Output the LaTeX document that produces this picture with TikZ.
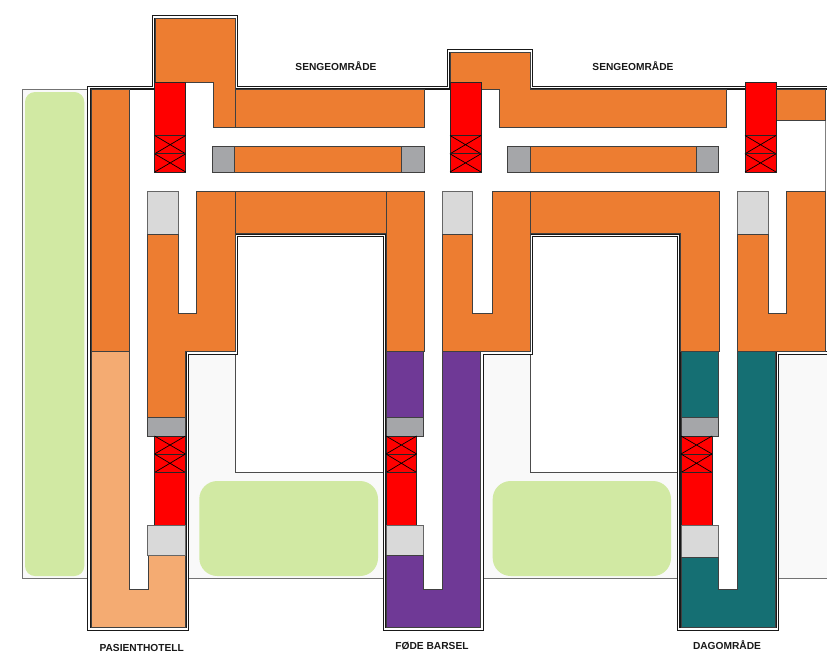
\documentclass[tikz,border=0pt]{standalone}
\usepackage{fontspec}
\setmainfont{Liberation Sans}
\definecolor{cOrange}{HTML}{ED7D31}
\definecolor{cPeach}{HTML}{F4AB72}
\definecolor{cPurple}{HTML}{6F3996}
\definecolor{cTeal}{HTML}{156F73}
\definecolor{cGrey}{HTML}{A5A6A9}
\definecolor{cLight}{HTML}{D9D9D9}
\definecolor{cGreen}{HTML}{D1E9A3}
\definecolor{cBack}{HTML}{F9F9F9}
\tikzset{
  edge/.style={draw=black!75,line width=1pt,line join=miter},
  orangeroom/.style={edge,fill=cOrange},
  peachroom/.style={edge,fill=cPeach},
  purpleroom/.style={edge,fill=cPurple},
  tealroom/.style={edge,fill=cTeal},
  redroom/.style={edge,draw=black!85,fill=red},
  greyroom/.style={edge,fill=cGrey},
  lightroom/.style={edge,draw=black!60,fill=cLight},
  greenarea/.style={fill=cGreen,draw=none},
  backarea/.style={draw=black!55,line width=0.9pt,fill=cBack},
  courtyard/.style={fill=white,draw=none},
  wallouter/.style={line width=3.8pt,black!90,miter limit=10},
  wallinner/.style={line width=1.4pt,white,miter limit=10},
  label/.style={font=\fontsize{10.2}{12}\selectfont\bfseries,text=black!90,inner sep=0pt}
}
\newcommand{\crossbox}[4]{\draw[redroom] (#1,#2) rectangle (#3,#4);\draw[black,line width=0.7pt] (#1,#2) -- (#3,#4) (#3,#2) -- (#1,#4);}
\newcommand{\wallpath}{(835,87.7) -- (531.3,87.7) -- (531.3,51) -- (448.7,51) -- (448.7,87.7) -- (236.3,87.7) -- (236.3,16.8) -- (153.7,16.8) -- (153.7,87.7) -- (89,87.7) -- (89,629) -- (187.5,629) -- (187.5,352.8) -- (236.3,352.8) -- (236.3,235.3) -- (384.7,235.3) -- (384.7,629) -- (482,629) -- (482,352.8) -- (531.3,352.8) -- (531.3,235.3) -- (678.7,235.3) -- (678.7,629) -- (777.3,629) -- (777.3,352.8) -- (835,352.8)}
\begin{document}
\begin{tikzpicture}[x=1pt,y=-1pt]
\useasboundingbox (0,0) rectangle (827,654);
\clip (0,0) rectangle (827,654);
% background field
\draw[backarea] (22,89) rectangle (840,578.5);
% courtyards
\fill[courtyard] (235,236) rectangle (385,472);
\fill[courtyard] (530,236) rectangle (680,472);
\draw[draw=black!70,line width=0.9pt] (235,340) -- (235,472) -- (386,472);
\draw[draw=black!70,line width=0.9pt] (530,340) -- (530,472) -- (681,472);
% green areas
\fill[greenarea,rounded corners=10pt] (25,92) rectangle (84.3,576);
\fill[greenarea,rounded corners=18pt] (199.3,481) rectangle (378,576);
\fill[greenarea,rounded corners=18pt] (492.7,481) rectangle (671,576);
% building outline
\path[fill=white] \wallpath -- cycle;
\draw[wallouter] \wallpath;
\draw[wallinner] \wallpath;
% right end wall
\draw[draw=black!50,line width=1pt] (825.3,89) -- (825.3,351);
% unit 1 (left)
\draw[orangeroom] (91,89.3) rectangle (129,351);
\draw[peachroom] (91,351) -- (129,351) -- (129,589) -- (148,589) -- (148,555) -- (185.5,555) -- (185.5,627) -- (91,627) -- cycle;
\draw[orangeroom] (155.3,18.5) -- (235,18.5) -- (235,127.3) -- (213.3,127.3) -- (213.3,82.7) -- (155.3,82.7) -- cycle;
\draw[orangeroom] (235,89.3) rectangle (424,127.3);
\draw[greyroom] (212.7,146) rectangle (234.7,172);
\draw[orangeroom] (234.7,146) rectangle (401,172);
\draw[greyroom] (401,146) rectangle (424,172);
\draw[redroom] (154.7,82.7) rectangle (185.7,135.5);
\crossbox{154.7}{135.5}{185.7}{153.8}
\crossbox{154.7}{153.8}{185.7}{172}
\draw[lightroom] (147.7,191) rectangle (178.3,234.3);
\draw[orangeroom] (147.7,234.3) -- (178.3,234.3) -- (178.3,313) -- (196.7,313) -- (196.7,191) -- (235,191) -- (235,351) -- (185.5,351) -- (185.5,417) -- (147.7,417) -- cycle;
\draw[orangeroom] (235,191) rectangle (386,233.3);
\draw[orangeroom] (386,191) rectangle (424,351);
\draw[greyroom] (147.7,417) rectangle (185.5,436);
\crossbox{154.5}{436}{185.5}{454}
\crossbox{154.5}{454}{185.5}{472.5}
\draw[redroom] (154.5,472.5) rectangle (185.5,525);
\draw[lightroom] (147.7,525) rectangle (185.5,555);
% unit 2 (middle)
\draw[orangeroom] (450.7,52.7) -- (530,52.7) -- (530,89.3) -- (726,89.3) -- (726,127.3) -- (499.3,127.3) -- (499.3,89.3) -- (481,89.3) -- (481,82.7) -- (450.7,82.7) -- cycle;
\draw[greyroom] (507.7,146.5) rectangle (530.7,172);
\draw[orangeroom] (530.7,146.5) rectangle (696,172);
\draw[greyroom] (696,146.5) rectangle (718.7,172);
\draw[redroom] (450,82.7) rectangle (481,135.5);
\crossbox{450}{135.5}{481}{153.8}
\crossbox{450}{153.8}{481}{172}
\draw[lightroom] (442.7,191) rectangle (472.7,234.3);
\draw[orangeroom] (442.7,234.3) -- (472.7,234.3) -- (472.7,313) -- (492,313) -- (492,191) -- (530,191) -- (530,351) -- (442.7,351) -- cycle;
\draw[orangeroom] (530,191) -- (719,191) -- (719,351) -- (680.5,351) -- (680.5,233.3) -- (530,233.3) -- cycle;
\draw[purpleroom] (386,351) rectangle (423.5,417);
\draw[greyroom] (386,417) rectangle (423.5,436);
\crossbox{386}{436}{416.7}{454}
\crossbox{386}{454}{416.7}{472.5}
\draw[redroom] (386,472.5) rectangle (416.7,525);
\draw[lightroom] (386,525) rectangle (423.5,555);
\draw[purpleroom] (386,555) -- (423.5,555) -- (423.5,589) -- (442.7,589) -- (442.7,351) -- (480.5,351) -- (480.5,627) -- (386,627) -- cycle;
% unit 3 (right)
\draw[orangeroom] (776,89.3) rectangle (825.3,120);
\draw[redroom] (745,82.7) rectangle (776,135.5);
\crossbox{745}{135.5}{776}{153.8}
\crossbox{745}{153.8}{776}{172}
\draw[lightroom] (737.3,191) rectangle (768,234.3);
\draw[orangeroom] (737.3,234.3) -- (768,234.3) -- (768,313) -- (786.7,313) -- (786.7,191) -- (825.3,191) -- (825.3,351) -- (737.3,351) -- cycle;
\draw[tealroom] (681,351) rectangle (718.3,417);
\draw[greyroom] (681,417) rectangle (718.3,436);
\crossbox{681}{436}{712}{454}
\crossbox{681}{454}{712}{472.5}
\draw[redroom] (681,472.5) rectangle (712,525);
\draw[lightroom] (681,525) rectangle (718.3,557);
\draw[tealroom] (681,557) -- (718.3,557) -- (718.3,589) -- (737.6,589) -- (737.6,351) -- (775.3,351) -- (775.3,627) -- (681,627) -- cycle;
% labels
\node[label] (seng1) at (336,66) {SENGEOMRÅDE};
\node[label] (seng2) at (633,66) {SENGEOMRÅDE};
\node[label] (hotel) at (141.7,648) {PASIENTHOTELL};
\node[label] (fode) at (432,646) {FØDE BARSEL};
\node[label] (dag) at (727,645) {DAGOMRÅDE};
\end{tikzpicture}
\end{document}
